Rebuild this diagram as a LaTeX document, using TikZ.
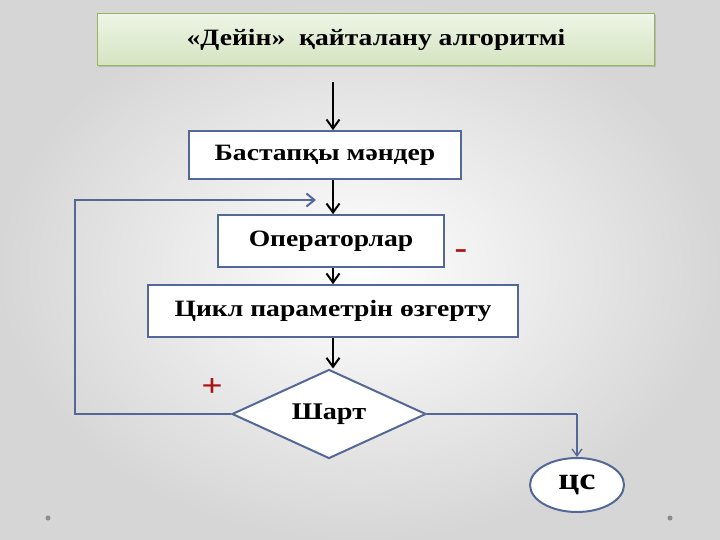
\documentclass[tikz,border=0pt]{standalone}
\usepackage{fontspec}
\setmainfont{Liberation Serif}[FakeStretch=1.18]
\usetikzlibrary{shapes.geometric,arrows.meta,shadows}
\definecolor{lineblue}{RGB}{84,104,152}
\definecolor{titleborder}{RGB}{150,180,100}
\definecolor{plusred}{RGB}{170,20,20}
\begin{document}
\begin{tikzpicture}[x=1bp,y=-1bp,
  boxstyle/.style={draw=lineblue,line width=1.6bp,fill=white,minimum height=48bp,inner sep=0pt,font=\fontsize{23.5}{26}\selectfont\bfseries},
  blackarrow/.style={draw=black,line width=2.4bp,-{Straight Barb[length=9bp,width=13bp,line width=2bp]}},
  bluearrow/.style={draw=lineblue,line width=2.4bp,-{Straight Barb[length=8bp,width=13bp,line width=2bp]}},
  thinblue/.style={draw=lineblue,line width=1.5bp,-{Straight Barb[length=7bp,width=10bp,line width=1.3bp]}},
  signstyle/.style={text=plusred,font=\fontsize{32}{34}\selectfont\bfseries,inner sep=0pt}]
\useasboundingbox (0,0) rectangle (720,540);
\shade[inner color=white,outer color=black!16] (0,0) rectangle (720,540);
% decorative dots
\fill[black!45] (48,518) circle (2.5bp);
\fill[black!45] (670,518) circle (2.5bp);
% title
\node[draw=titleborder,line width=1bp,top color={rgb,255:red,238;green,245;blue,230},bottom color={rgb,255:red,212;green,228;blue,192},
  drop shadow={shadow xshift=1.5bp,shadow yshift=-1.5bp,opacity=0.35},
  minimum width=556bp,minimum height=52bp,inner sep=0pt,font=\fontsize{23.5}{26}\selectfont\bfseries] (title) at (376,40) {«Дейін»\ \ қайталану алгоритмі};
\coordinate (start) at (333,82);
\node[boxstyle,minimum width=272bp] (b1) at (325,155) {Бастапқы мәндер};
\node[boxstyle,minimum width=226bp,minimum height=52bp] (b2) at (331,241) {Операторлар};
\node[boxstyle,minimum width=370bp,minimum height=52bp] (b3) at (333,311) {Цикл параметрін өзгерту};
\node[draw=lineblue,line width=2bp,fill=white,diamond,minimum width=194bp,minimum height=89bp,inner sep=0pt,aspect=2.18,font=\fontsize{24}{26}\selectfont\bfseries] (d) at (329,414) {Шарт};
\node[draw=lineblue,line width=2bp,fill=white,ellipse,minimum width=94bp,minimum height=54bp,inner sep=0pt,font=\fontsize{31}{34}\selectfont\bfseries] (e) at (577,485) {цс};
% connectors
\draw[blackarrow] (start) -- (start|-b1.north);
\draw[blackarrow] (b1.south-|start) -- (b2.north-|start);
\draw[blackarrow] (b2.south-|start) -- (b3.north-|start);
\draw[blackarrow] (b3.south-|start) -- (d.north-|start);
\coordinate (lp) at (316,200);
\draw[bluearrow] (d.west) -| (75,200) -- (lp);
\draw[line width=2bp,draw=lineblue] (d.east) -- (577,414);
\draw[thinblue] (577,414) -- (e.north);
% signs
\node[signstyle] (plus) at (212,387) {+};
\node[signstyle] (minus) at (461,254) {-};
\end{tikzpicture}
\end{document}
